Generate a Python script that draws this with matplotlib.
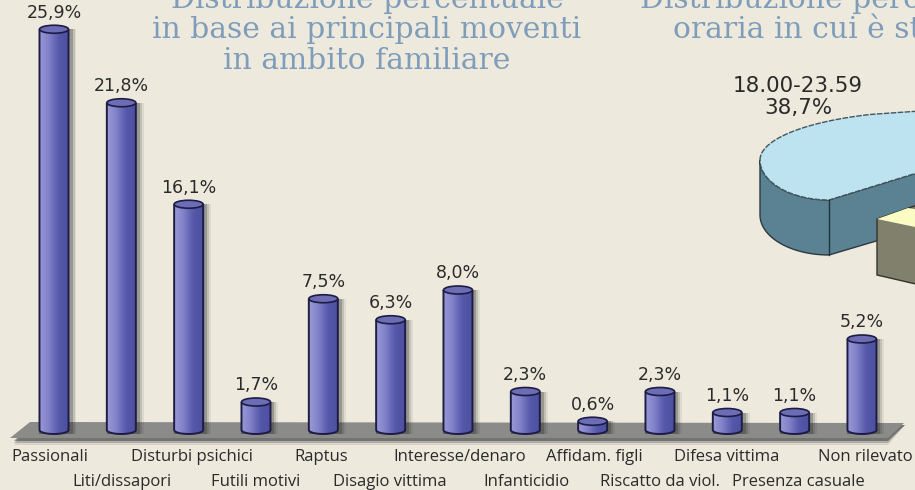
"""Bar chart of motives within the family, with the clipped 3D pie at the right edge."""

import matplotlib

matplotlib.use("Agg")
import matplotlib.pyplot as plt
import numpy as np
from matplotlib.patches import Ellipse, PathPatch, Polygon, Rectangle
from matplotlib.path import Path

CATEGORIES = [
    "Passionali", "Liti/dissapori", "Disturbi psichici", "Futili motivi",
    "Raptus", "Disagio vittima", "Interesse/denaro", "Infanticidio",
    "Affidam. figli", "Riscatto da viol.", "Difesa vittima", "Presenza casuale",
    "Non rilevato",
]
VALUES = [25.9, 21.8, 16.1, 1.7, 7.5, 6.3, 8.0, 2.3, 0.6, 2.3, 1.1, 1.1, 5.2]
# the picture does not draw the tall bars to scale, so heights are read off separately
DRAWN_HEIGHTS = [22.9, 18.7, 12.9, 1.6, 7.5, 6.3, 8.0, 2.2, 0.5, 2.2, 1.0, 1.0, 5.2]
TITLE_LEFT = ["Distribuzione percentuale", "in base ai principali moventi", "in ambito familiare"]
TITLE_RIGHT = ["Distribuzione percentuale", "oraria in cui è stato commesso"]
PIE_LABEL = ["18.00-23.59", "38,7%"]

W, H = 915, 490
BG = "#edeadd"
EDGE = "#1c1c44"
TITLE_COLOR = "#7f9dba"
TEXT_COLOR = "#2a2a2a"

PX_PER_BAR = 67.33
PX_PER_UNIT = 17.5
X0_PX = 54
Y0_PX = 430
BAR_W = 29 / PX_PER_BAR
ELL_H = 8 / PX_PER_UNIT
# the original labels sit a little off their bars
LABEL_NUDGE_PX = [-4, 1, 3, 0, -2, -1, 2, 1, 2, 0, -1, 4, 3]

fig = plt.figure(figsize=(W / 100, H / 100), dpi=100, facecolor=BG)

# pixel layer for the floor, the pie and the titles
deco = fig.add_axes([0, 0, 1, 1], zorder=1)
deco.set_xlim(0, W)
deco.set_ylim(H, 0)
deco.axis("off")

for dy, alpha in [(5, 0.12), (3, 0.25), (1, 0.5)]:
    deco.add_patch(Polygon([(14, 440 + dy), (888, 440 + dy), (905, 425), (30, 425)],
                           closed=True, fc="#3a3a3a", ec="none", alpha=alpha))
deco.add_patch(Polygon([(10, 438), (888, 438), (904, 423), (30, 422)],
                       closed=True, fc="#8b8b89", ec="none"))

# pie, blue slice: side first, then top
upper = np.linspace(np.pi, np.pi * 0.62, 40)
upper_x = 935 + 175 * np.cos(upper)
upper_y = 160 - 49 * np.sin(upper)
quarter = np.linspace(0, np.pi / 2, 30)
lower_x = 760 + 69 * (1 - np.cos(quarter))
lower_y = 160 + 40 * np.sin(quarter)
lower_top = list(zip(lower_x, lower_y))
lower_side = list(zip(lower_x, lower_y + 55))
top_poly = list(zip(upper_x, upper_y)) + [(W + 5, 111), (W + 5, 172)] + lower_top[::-1]
side_poly = lower_side + [(W + 5, 228), (W + 5, 172)] + lower_top[::-1]
deco.add_patch(Polygon(side_poly, closed=True, fc="#5b8292", ec="#2b3a40", lw=1))
deco.add_patch(Polygon(top_poly, closed=True, fc="#bce3ef", ec="#44555c", lw=1, ls=(0, (4, 1))))
deco.plot([829, 829], [200, 255], color="#22343c", lw=1)

# pie, cream slice
deco.add_patch(Polygon([(877, 219), (W + 5, 204), (W + 5, 285), (877, 275)],
                       closed=True, fc="#80806d", ec="#33332a", lw=1))
deco.add_patch(Polygon([(877, 219), (908, 208), (W + 5, 210), (W + 5, 228)],
                       closed=True, fc="#fbfbc4", ec="none"))

for i, line in enumerate(TITLE_LEFT):
    deco.text(367, 0 + 30.5 * i, line, family="DejaVu Serif", fontsize=21.4, color=TITLE_COLOR,
              ha="center", va="center", clip_on=True)
for i, line in enumerate(TITLE_RIGHT):
    deco.text(640 if i == 0 else 673, 0 + 30.5 * i, line, family="DejaVu Serif", fontsize=21.4,
              color=TITLE_COLOR, ha="left", va="center", clip_on=True)
for i, line in enumerate(PIE_LABEL):
    deco.text(798, 86 + 21.5 * i, line, family="DejaVu Sans", fontsize=15.4, color=TEXT_COLOR,
              ha="center", va="center")

# bar layer: category index on x, drawn height on y
ax = fig.add_axes([0, 0, 1, 1], zorder=2)
ax.patch.set_alpha(0)
ax.axis("off")

gradient = np.linspace(0, 1, 64).reshape(1, -1)
cmap = matplotlib.colors.LinearSegmentedColormap.from_list(
    "bar", ["#9a9ad6", "#7f80c8", "#5658aa", "#4d50a0"])
theta = np.linspace(np.pi, 2 * np.pi, 30)

for i, (value, height) in enumerate(zip(VALUES, DRAWN_HEIGHTS)):
    hw = BAR_W / 2

    # soft shadow on the right
    for grow, alpha in [(8, 0.08), (6, 0.14), (4, 0.25)]:
        ax.add_patch(Rectangle((i - hw, -ELL_H / 2), BAR_W + grow / PX_PER_BAR, height + ELL_H / 2,
                               fc="#222222", ec="none", alpha=alpha))

    body_x = np.concatenate([[i - hw], i + hw * np.cos(theta), [i + hw]])
    body_y = np.concatenate([[height], ELL_H / 2 * np.sin(theta), [height]])
    patch = PathPatch(Path(np.column_stack([body_x, body_y])), fc="none", ec=EDGE, lw=1.4, zorder=3)
    ax.add_patch(patch)
    img = ax.imshow(gradient, cmap=cmap, extent=(i - hw, i + hw, -ELL_H, height), aspect="auto", zorder=2.5)
    img.set_clip_path(patch)

    ax.add_patch(Ellipse((i, height), BAR_W, ELL_H, fc="#6c6db4", ec=EDGE, lw=1.2, zorder=4))

    ax.annotate(f"{value:.1f}%".replace(".", ","), (i, height), xytext=(0, 12), textcoords="offset points",
                ha="center", va="center", family="DejaVu Sans", fontsize=12.5, color=TEXT_COLOR, zorder=5)

    row_y = -1.55 if i % 2 == 0 else -2.98
    ax.text(i + LABEL_NUDGE_PX[i] / PX_PER_BAR, row_y, CATEGORIES[i], ha="center", va="center",
            family="Open Sans", fontsize=12, color=TEXT_COLOR, zorder=5)

# imshow resets the limits, so set them last
ax.set_xlim(-X0_PX / PX_PER_BAR, (W - X0_PX) / PX_PER_BAR)
ax.set_ylim(-(H - Y0_PX) / PX_PER_UNIT, Y0_PX / PX_PER_UNIT)

fig.savefig("out.png", dpi=100, facecolor=BG)
